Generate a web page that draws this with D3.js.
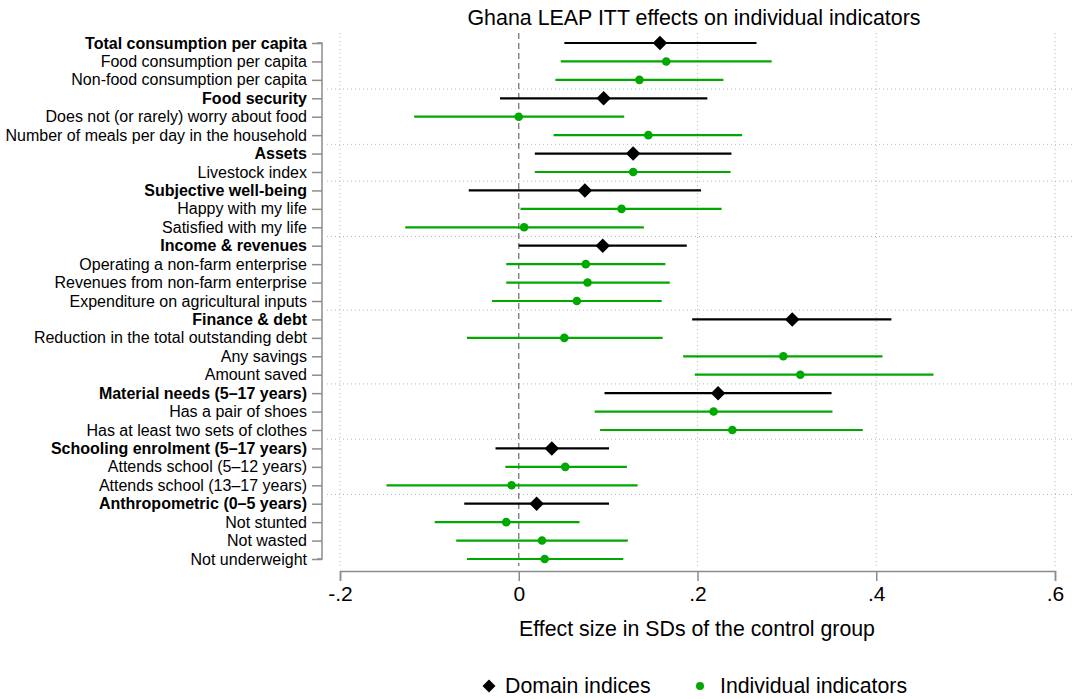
<!DOCTYPE html>
<html>
<head>
<meta charset="utf-8">
<script src="https://cdn.jsdelivr.net/npm/d3@7"></script>
<style>
  body { margin: 0; background: #fff; }
  svg { font-family: "Liberation Sans", Arial, Helvetica, sans-serif; }
</style>
</head>
<body>
<div id="chart"></div>
<script>
// rows, top to bottom; bold = domain index
const labels = [
  "Total consumption per capita", "Food consumption per capita", "Non-food consumption per capita",
  "Food security", "Does not (or rarely) worry about food", "Number of meals per day in the household",
  "Assets", "Livestock index",
  "Subjective well-being", "Happy with my life", "Satisfied with my life",
  "Income & revenues", "Operating a non-farm enterprise", "Revenues from non-farm enterprise", "Expenditure on agricultural inputs",
  "Finance & debt", "Reduction in the total outstanding debt", "Any savings", "Amount saved",
  "Material needs (5\u201317 years)", "Has a pair of shoes", "Has at least two sets of clothes",
  "Schooling enrolment (5\u201317 years)", "Attends school (5\u201312 years)", "Attends school (13\u201317 years)",
  "Anthropometric (0\u20135 years)", "Not stunted", "Not wasted", "Not underweight"
];
const isDomain = [1,0,0, 1,0,0, 1,0, 1,0,0, 1,0,0,0, 1,0,0,0, 1,0,0, 1,0,0, 1,0,0,0];
const estimate = [0.158,0.165,0.135, 0.095,0.000,0.145, 0.128,0.128, 0.074,0.115,0.006,
  0.094,0.075,0.077,0.065, 0.306,0.051,0.296,0.315, 0.223,0.218,0.239, 0.037,0.052,-0.008,
  0.020,-0.014,0.026,0.029];
const ciLow = [0.051,0.047,0.041, -0.021,-0.117,0.039, 0.018,0.018, -0.056,0.002,-0.127,
  0.000,-0.014,-0.014,-0.030, 0.194,-0.058,0.184,0.197, 0.096,0.085,0.091, -0.026,-0.015,-0.148,
  -0.061,-0.094,-0.070,-0.058];
const ciHigh = [0.266,0.283,0.229, 0.211,0.118,0.250, 0.238,0.237, 0.204,0.227,0.140,
  0.188,0.164,0.169,0.160, 0.417,0.161,0.407,0.464, 0.350,0.351,0.385, 0.101,0.121,0.133,
  0.101,0.068,0.122,0.117];
// group separators come after these row indices
const groupEnds = [2, 5, 7, 10, 14, 18, 21, 24];
const xTicks = [-0.2, 0, 0.2, 0.4, 0.6];
const xTickLabels = ["-.2", "0", ".2", ".4", ".6"];

const width = 1076, height = 699;
const black = "#000", green = "#00a800", axisGrey = "#8c8c8c";

const svg = d3.select("#chart").append("svg")
    .attr("width", width)
    .attr("height", height);

const x = d3.scaleLinear().domain([-0.2, 0.6]).range([340, 1055]);
const y = d3.scalePoint().domain(d3.range(labels.length)).range([43, 559]);
const step = y.step();

// --- grid ---
const grid = svg.append("g");
grid.selectAll("line.vgrid")
    .data(xTicks.filter(t => t !== 0))
    .join("line")
    .attr("x1", d => x(d)).attr("x2", d => x(d))
    .attr("y1", 33).attr("y2", 566)
    .attr("stroke", "#b8b8b8").attr("stroke-width", 1)
    .attr("stroke-dasharray", "1,3");
grid.selectAll("line.hgrid")
    .data(groupEnds)
    .join("line")
    .attr("x1", 327).attr("x2", 1072)
    .attr("y1", d => y(d) + step / 2).attr("y2", d => y(d) + step / 2)
    .attr("stroke", "#b8b8b8").attr("stroke-width", 1)
    .attr("stroke-dasharray", "1,3");

// zero line
svg.append("line")
    .attr("x1", x(0)).attr("x2", x(0))
    .attr("y1", 33).attr("y2", 566)
    .attr("stroke", "#777").attr("stroke-width", 1.3)
    .attr("stroke-dasharray", "6,4");

// --- y axis ---
const yAxis = d3.axisLeft(y).tickSize(10).tickPadding(5).tickFormat(i => labels[i]);
const yG = svg.append("g").attr("transform", "translate(322,0)").call(yAxis);
yG.select(".domain").attr("stroke", axisGrey).attr("stroke-width", 1.5).attr("d", `M-5,${y(0)}H0V${y(labels.length - 1)}H-5`);
yG.selectAll(".tick line").attr("stroke", axisGrey).attr("stroke-width", 1.5);
yG.selectAll(".tick text")
    .attr("fill", "#000")
    .style("font-size", "16px")
    .style("font-weight", i => isDomain[i] ? "bold" : "normal");

// --- x axis ---
const xAxis = d3.axisBottom(x).tickValues(xTicks).tickSize(10).tickPadding(5)
    .tickFormat((d, i) => xTickLabels[i]);
const xG = svg.append("g").attr("transform", "translate(0,571)").call(xAxis);
xG.select(".domain").attr("stroke", axisGrey).attr("stroke-width", 1.5);
xG.selectAll(".tick line").attr("stroke", axisGrey).attr("stroke-width", 1.5);
xG.selectAll(".tick text").attr("fill", "#000").style("font-size", "21px");

// --- CIs and points ---
const rows = labels.map((l, i) => ({ i, dom: isDomain[i], est: estimate[i], lo: ciLow[i], hi: ciHigh[i] }));
svg.append("g").selectAll("line")
    .data(rows)
    .join("line")
    .attr("x1", d => x(d.lo)).attr("x2", d => x(d.hi))
    .attr("y1", d => y(d.i)).attr("y2", d => y(d.i))
    .attr("stroke", d => d.dom ? black : green)
    .attr("stroke-width", 2.2);

svg.append("g").selectAll("path")
    .data(rows.filter(d => d.dom))
    .join("path")
    .attr("transform", d => `translate(${x(d.est)},${y(d.i)}) rotate(45)`)
    .attr("d", d3.symbol().type(d3.symbolSquare).size(105))
    .attr("fill", black);
svg.append("g").selectAll("circle")
    .data(rows.filter(d => !d.dom))
    .join("circle")
    .attr("cx", d => x(d.est)).attr("cy", d => y(d.i))
    .attr("r", 4.3)
    .attr("fill", green);

// --- titles ---
svg.append("text")
    .attr("x", 694).attr("y", 25)
    .attr("text-anchor", "middle")
    .style("font-size", "21.4px")
    .text("Ghana LEAP ITT effects on individual indicators");
svg.append("text")
    .attr("x", 697).attr("y", 636)
    .attr("text-anchor", "middle")
    .style("font-size", "21.3px")
    .text("Effect size in SDs of the control group");

// --- legend ---
const leg = svg.append("g");
leg.append("path")
    .attr("transform", "translate(489,686) rotate(45)")
    .attr("d", d3.symbol().type(d3.symbolSquare).size(85))
    .attr("fill", black);
leg.append("text").attr("x", 505).attr("y", 693).style("font-size", "21.3px").text("Domain indices");
leg.append("circle").attr("cx", 700).attr("cy", 686).attr("r", 4).attr("fill", green);
leg.append("text").attr("x", 720).attr("y", 693).style("font-size", "21.3px").text("Individual indicators");
</script>
</body>
</html>
